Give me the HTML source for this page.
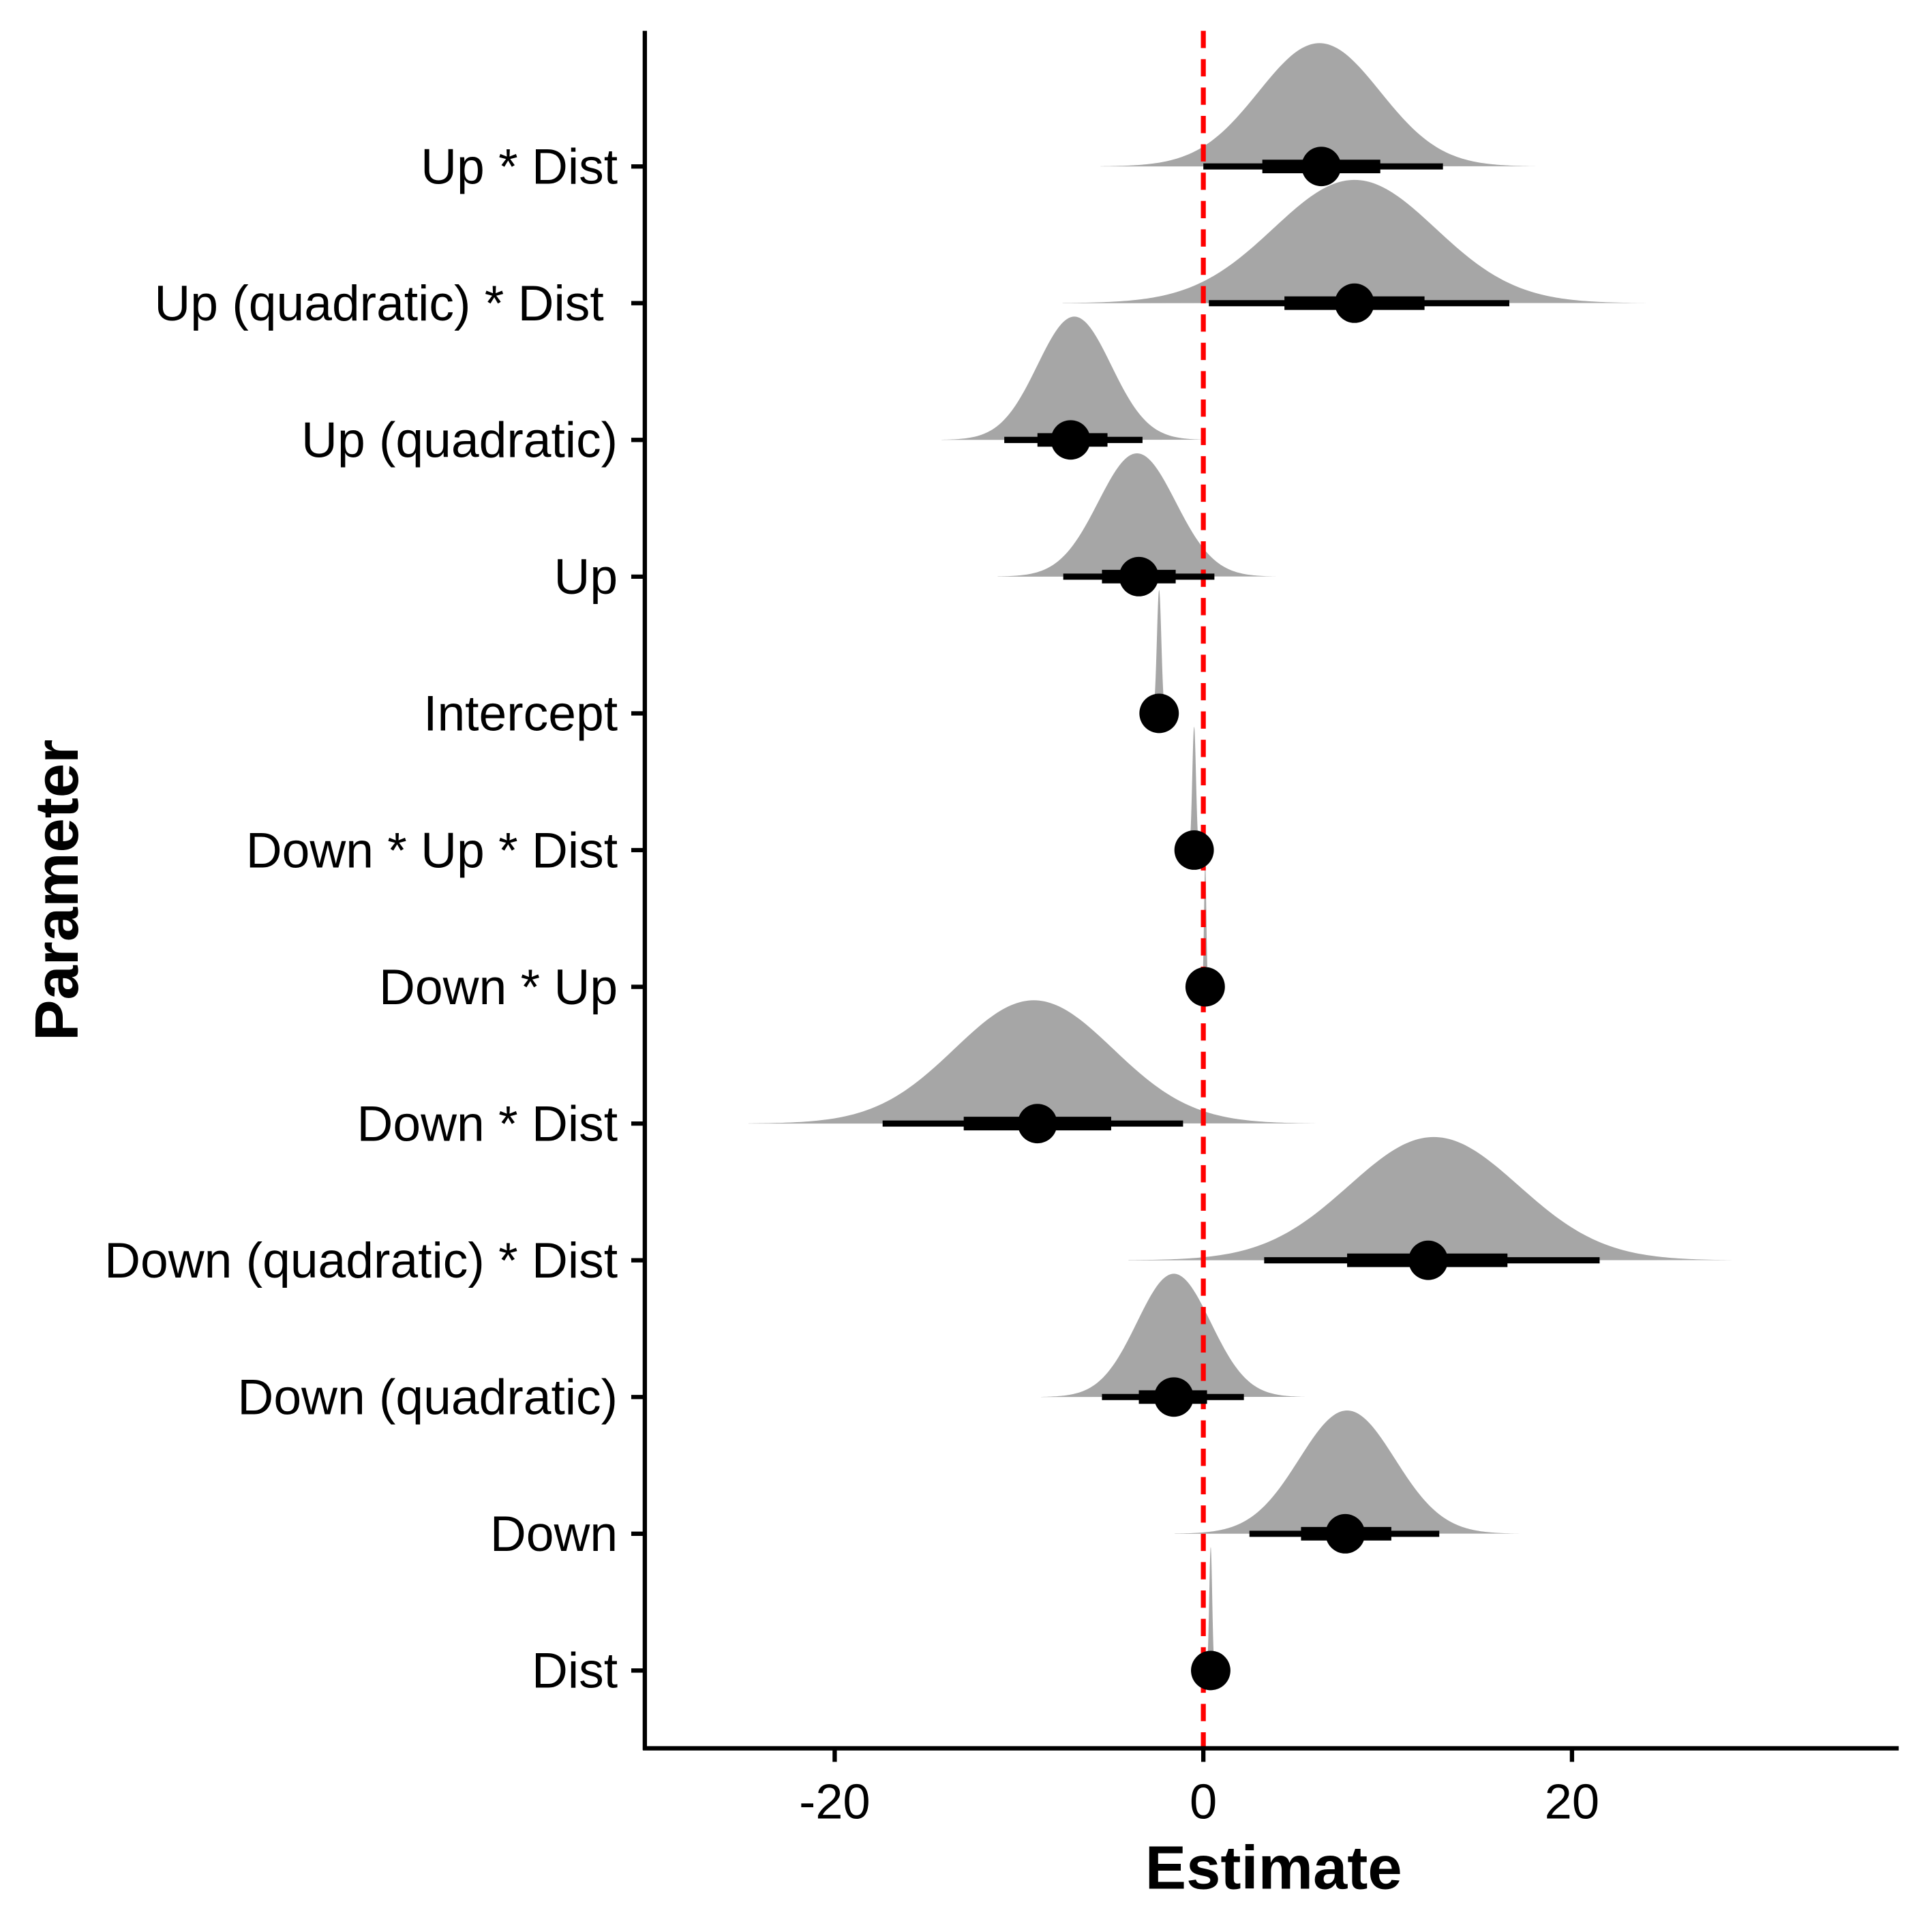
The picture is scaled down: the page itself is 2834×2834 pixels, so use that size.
<!DOCTYPE html>
<html><head><meta charset="utf-8"><style>
html,body{margin:0;padding:0;background:#fff}
svg{display:block}
text{font-family:"Liberation Sans",Arial,sans-serif}
</style></head><body>
<svg id="chart" width="2834" height="2834" viewBox="0 0 1567 1567" xmlns="http://www.w3.org/2000/svg">
<rect width="1567" height="1567" fill="#fff"/>
<g id="dens"></g>
<g id="ylabels"></g>
<g id="xlabels"></g>
<line x1="523" y1="25" x2="523" y2="1419.5" stroke="#000" stroke-width="3.5"/>
<line x1="521.5" y1="1418" x2="1540" y2="1418" stroke="#000" stroke-width="3.5"/>
<text x="1033" y="1532" font-size="50" font-weight="bold" text-anchor="middle">Estimate</text>
<text transform="translate(63,722) rotate(-90)" font-size="50" font-weight="bold" text-anchor="middle">Parameter</text>
</svg>
<script>
const params=["Up * Dist","Up (quadratic) * Dist\u00a0","Up (quadratic)","Up","Intercept","Down * Up * Dist","Down * Up","Down * Dist","Down (quadratic) * Dist","Down (quadratic)","Down","Dist"];
const estimates=[6.4,8.2,-7.2,-3.5,-2.4,-0.5,0.1,-9.0,12.2,-1.6,7.7,0.4];
const innerLo=[3.2,4.4,-9.0,-5.5,-2.5,-0.6,0.05,-13.0,7.8,-3.5,5.3,0.35];
const innerHi=[9.6,12.0,-5.2,-1.5,-2.3,-0.4,0.15,-5.0,16.5,0.2,10.2,0.45];
const outerLo=[0.0,0.3,-10.8,-7.6,-2.6,-0.7,0.0,-17.4,3.3,-5.5,2.5,0.3];
const outerHi=[13.0,16.6,-3.3,0.6,-2.2,-0.3,0.2,-1.1,21.5,2.2,12.8,0.5];
const densMode=[6.3,8.2,-7.0,-3.6,-2.4,-0.5,0.1,-9.2,12.5,-1.6,7.8,0.4];
const densSd=[3.3,4.4,2.0,2.1,0.12,0.1,0.06,4.3,4.6,2.0,2.6,0.08];
const xTicks=[-20,0,20];
const X=v=>976+(v*14.95);
const Y=i=>135+i*110.9;
const ns="http://www.w3.org/2000/svg";
function mk(t,a,p){const e=document.createElementNS(ns,t);for(const k in a)e.setAttribute(k,a[k]);p.appendChild(e);return e;}
const gD=document.getElementById('dens'),gY=document.getElementById('ylabels'),gX=document.getElementById('xlabels');
params.forEach((p,i)=>{
  const y=Y(i),m=densMode[i],s=densSd[i];
  let d=`M${X(m-3.6*s)},${y}`;
  for(let k=0;k<=200;k++){const v=m-3.6*s+7.2*s*k/200;const h=100*Math.exp(-0.5*((v-m)/s)**2);d+=`L${X(v).toFixed(2)},${(y-h).toFixed(2)}`;}
  d+='Z';
  const pa=mk('path',{d:d,fill:'#a6a6a6'},gD);
  
  
});
const rl=mk('line',{x1:976,y1:25,x2:976,y2:1418,stroke:'#ff0000','stroke-width':4,'stroke-dasharray':'14,9'},gD);


params.forEach((p,i)=>{
  const y=Y(i);
  const l1=mk('line',{x1:X(outerLo[i]),x2:X(outerHi[i]),y1:y,y2:y,stroke:'#000','stroke-width':5},gD);
  
  
  const l2=mk('line',{x1:X(innerLo[i]),x2:X(innerHi[i]),y1:y,y2:y,stroke:'#000','stroke-width':11},gD);
  
  
  const c=mk('circle',{cx:X(estimates[i]),cy:y,r:16,fill:'#000'},gD);
  
  
  const tk=mk('line',{x1:512,x2:523,y1:y,y2:y,stroke:'#000','stroke-width':3.5},gY);
  
  
  const t=mk('text',{x:501,y:y+14,'font-size':40.5,'text-anchor':'end'},gY);
  t.textContent=p;
  
  
});
xTicks.forEach(v=>{
  const tk=mk('line',{x1:X(v),x2:X(v),y1:1418,y2:1429,stroke:'#000','stroke-width':3.5},gX);
  
  
  const t=mk('text',{x:X(v),y:1475,'font-size':40,'text-anchor':'middle'},gX);
  t.textContent=v;
  
  
});
</script>
</body></html>
